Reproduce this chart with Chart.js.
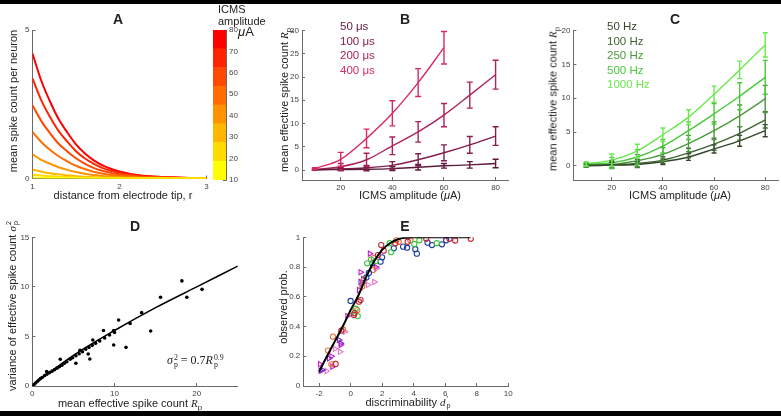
<!DOCTYPE html>
<html>
<head>
<meta charset="utf-8">
<title>ICMS spike count figure</title>
<script src="https://cdn.jsdelivr.net/npm/chart.js@4.4.1/dist/chart.umd.min.js"></script>
<style>
  body { margin: 0; background: #fff; }
  #fig { position: relative; width: 781px; height: 416px; overflow: hidden; background: #fff;
         font-family: "Liberation Sans", Arial, sans-serif; color: #222; }
  #fig canvas { position: absolute; left: 0; top: 0; }
  .bar { position: absolute; left: 0; width: 781px; background: #000; }
  .t { position: absolute; white-space: nowrap; font-size: 11px; line-height: 1; }
  .c { transform: translate(-50%, -50%); }
  .r { transform: translate(-50%, -50%) rotate(-90deg); }
  .l { transform: translate(0, -50%); }
  .big { font-weight: bold; font-size: 14px; }
  .leg { font-size: 11.5px; }
  .serif { font-family: "Liberation Serif", "Times New Roman", serif; }
  sub, sup { font-size: 70%; line-height: 0; }
  .ss { display: inline-flex; flex-direction: column; vertical-align: middle; font-size: 65%;
        line-height: 0.95; margin-left: 1px; }
</style>
</head>
<body>
<div id="fig">
  <div class="bar" style="top:0;height:4px"></div>
  <div class="bar" style="top:411px;height:5px"></div>
  <canvas id="cA" width="781" height="416"></canvas>
  <canvas id="cBar" width="781" height="416"></canvas>
  <canvas id="cB" width="781" height="416"></canvas>
  <canvas id="cC" width="781" height="416"></canvas>
  <canvas id="cD" width="781" height="416"></canvas>
  <canvas id="cE" width="781" height="416"></canvas>

  <!-- panel letters -->
  <div class="t c big" style="left:118px;top:19px">A</div>
  <div class="t c big" style="left:405px;top:19px">B</div>
  <div class="t c big" style="left:675px;top:19px">C</div>
  <div class="t c big" style="left:135px;top:226px">D</div>
  <div class="t c big" style="left:405px;top:226px">E</div>

  <!-- axis titles -->
  <div class="t r" style="left:13px;top:101px">mean spike count per neuron</div>
  <div class="t c" style="left:123px;top:195px">distance from electrode tip, r</div>
  <div class="t r" style="left:284px;top:100px">mean effective spike count <i class="serif">R</i><sub>p</sub></div>
  <div class="t c" style="left:410px;top:195px">ICMS amplitude (<i>μ</i>A)</div>
  <div class="t r" style="left:553px;top:99px">mean effective spike count <i class="serif">R</i><sub>p</sub></div>
  <div class="t c" style="left:680px;top:195px">ICMS amplitude (<i>μ</i>A)</div>
  <div class="t r" style="left:13px;top:306px">variance of effective spike count <i class="serif">σ</i><span class="ss"><span>2</span><span>p</span></span></div>
  <div class="t c" style="left:130px;top:403px">mean effective spike count <i class="serif">R</i><sub>p</sub></div>
  <div class="t r" style="left:283px;top:307px">observed prob.</div>
  <div class="t c" style="left:408px;top:403px">discriminability <i class="serif">d</i><span class="ss"><span>′</span><span>p</span></span></div>

  <!-- colorbar title -->
  <div class="t l" style="left:218px;top:9px">ICMS</div>
  <div class="t l" style="left:218px;top:20.5px">amplitude</div>
  <div class="t l" style="left:238px;top:31px;font-size:13px"><i>μ</i>A</div>

  <!-- legends -->
  <div class="t l leg" style="left:340px;top:27px;color:#5c1a3c">50 μs</div>
  <div class="t l leg" style="left:340px;top:41.5px;color:#851e4c">100 μs</div>
  <div class="t l leg" style="left:340px;top:56px;color:#ad225a">200 μs</div>
  <div class="t l leg" style="left:340px;top:70.5px;color:#d92a66">400 μs</div>

  <div class="t l leg" style="left:607px;top:27px;color:#34472a">50 Hz</div>
  <div class="t l leg" style="left:607px;top:41.5px;color:#3f6530">100 Hz</div>
  <div class="t l leg" style="left:607px;top:56px;color:#4a9a38">250 Hz</div>
  <div class="t l leg" style="left:607px;top:70.5px;color:#48c83a">500 Hz</div>
  <div class="t l leg" style="left:607px;top:85px;color:#6be84f">1000 Hz</div>

  <div class="t l serif" style="left:167px;top:361px;font-size:12px"><i>σ</i><span class="ss"><span>2</span><span>p</span></span> = 0.7<i>R</i><span class="ss"><span>0.9</span><span>p</span></span></div>
</div>

<script>
// ---- panel A: spike count vs distance, one curve per amplitude ----
const rA = [1, 1.1, 1.2, 1.3, 1.4, 1.5, 1.6, 1.7, 1.8, 1.9, 2.0, 2.2, 2.4, 2.6, 2.8, 3.0];
const a10 = [0.03, 0.023, 0.018, 0.014, 0.011, 0.008, 0.006, 0.004, 0.003, 0.002, 0.002, 0.001, 0, 0, 0, 0];
const a20 = [0.13, 0.1, 0.08, 0.06, 0.048, 0.036, 0.026, 0.019, 0.014, 0.01, 0.007, 0.004, 0.002, 0.001, 0.001, 0];
const a30 = [0.3, 0.23, 0.18, 0.14, 0.11, 0.08, 0.06, 0.044, 0.032, 0.023, 0.017, 0.009, 0.005, 0.003, 0.001, 0.001];
const a40 = [0.81, 0.63, 0.5, 0.38, 0.29, 0.22, 0.16, 0.12, 0.085, 0.063, 0.046, 0.023, 0.013, 0.008, 0.004, 0.002];
const a50 = [1.57, 1.23, 0.97, 0.75, 0.58, 0.43, 0.32, 0.23, 0.17, 0.12, 0.09, 0.045, 0.026, 0.015, 0.008, 0.004];
const a60 = [2.47, 1.94, 1.53, 1.17, 0.91, 0.68, 0.5, 0.36, 0.26, 0.19, 0.14, 0.07, 0.04, 0.023, 0.012, 0.006];
const a70 = [3.37, 2.64, 2.08, 1.6, 1.24, 0.92, 0.68, 0.5, 0.36, 0.26, 0.19, 0.1, 0.056, 0.032, 0.016, 0.008];
const a80 = [4.21, 3.3, 2.6, 2.0, 1.55, 1.15, 0.85, 0.62, 0.45, 0.33, 0.24, 0.12, 0.07, 0.04, 0.02, 0.01];
const ampColors = ["#ffff00", "#ffdb00", "#ffb600", "#ff9200", "#ff6d00", "#ff4900", "#ff2400", "#ff0000"];
const cbEdges = [10, 18.75, 27.5, 36.25, 45, 53.75, 62.5, 71.25, 80];
const cbTicks = [10, 20, 30, 40, 50, 60, 70, 80];

// ---- panel B: pulse width ----
const ampB = [10, 20, 30, 40, 50, 60, 70, 80];
const b50 = [0.05, 0.1, 0.15, 0.3, 0.6, 0.9, 1.1, 1.4];
const b50err = [0.1, 0.2, 0.3, 0.4, 0.6, 0.5, 0.7, 0.9];
const b100 = [0.05, 0.2, 0.5, 1.0, 2.2, 3.7, 5.4, 7.3];
const b100err = [0.1, 0.3, 0.5, 0.8, 1.3, 1.7, 1.8, 2.0];
const b200 = [0.1, 0.7, 2.2, 5.2, 8.2, 11.8, 16.1, 20.5];
const b200err = [0.15, 0.7, 1.4, 1.9, 2.2, 2.5, 2.8, 3.1];
const b400 = [0.3, 2.3, 6.8, 12.2, 18.8, 26.3];
const b400err = [0.2, 1.5, 2.0, 2.7, 3.0, 3.5];

// ---- panel C: pulse frequency ----
const ampC = [10, 20, 30, 40, 50, 60, 70, 80];
const c50 = [0.0, 0.1, 0.2, 0.6, 1.3, 2.5, 3.7, 5.2];
const c50err = [0.2, 0.4, 0.4, 0.4, 0.5, 0.6, 0.8, 0.9];
const c100 = [0.05, 0.15, 0.35, 0.85, 1.9, 3.2, 4.8, 6.8];
const c100err = [0.2, 0.5, 0.6, 0.5, 0.7, 0.9, 1.0, 1.2];
const c250 = [0.1, 0.2, 0.75, 1.7, 3.3, 5.2, 7.4, 9.9];
const c250err = [0.2, 0.6, 0.9, 1.0, 1.2, 1.3, 1.6, 2.0];
const c500 = [0.2, 0.45, 1.3, 2.9, 5.2, 7.7, 10.3, 13.1];
const c500err = [0.3, 0.8, 1.1, 1.0, 1.3, 1.5, 2.0, 2.5];
const c1000 = [0.3, 0.85, 2.2, 4.6, 7.2, 10.6, 14.2, 17.9];
const c1000err = [0.3, 0.9, 1.0, 1.0, 1.1, 1.2, 1.3, 1.8];

// ---- panel D: variance vs mean ----
const dMean = [0.2, 0.4, 0.6, 0.8, 1.0, 1.2, 1.5, 1.75, 1.8, 2.1, 2.4, 2.7, 3.0, 3.3, 3.4, 3.6, 3.9, 4.2,
  4.6, 4.9, 5.3, 5.3, 5.7, 5.8, 6.1, 6.5, 6.8, 6.9, 7.0, 7.3, 7.36, 7.7, 8.2, 8.66, 8.8, 9.4, 9.9, 9.9,
  10.0, 10.5, 11.4, 11.9, 13.3, 14.4, 15.6, 18.2, 18.8, 20.65];
const dVar = [0.15, 0.3, 0.45, 0.6, 0.75, 0.85, 1.05, 1.45, 1.2, 1.35, 1.5, 1.65, 1.8, 1.95, 2.7, 2.1, 2.3, 2.45,
  2.7, 2.85, 3.05, 2.29, 3.25, 3.6, 3.45, 3.7, 3.23, 3.9, 2.72, 4.1, 4.64, 4.3, 4.55, 5.6, 4.85, 5.15, 5.6, 4.14,
  5.4, 6.66, 3.9, 6.3, 7.4, 5.55, 8.95, 10.6, 8.95, 9.75];
const dFitX = [0, 1, 2, 5, 10, 15, 20, 25];
const dFitY = [0, 0.7, 1.3, 3.1, 5.6, 7.9, 10.0, 12.1];

// ---- panel E: psychometric ----
const eCurveX = [-2, -1.5, -1, -0.5, 0, 0.5, 1, 1.5, 2, 2.5, 3, 3.5, 4, 5, 6, 7.6];
const eCurveY = [0.096, 0.2, 0.3, 0.4, 0.51, 0.61, 0.735, 0.84, 0.915, 0.96, 0.987, 0.997, 1, 1, 1, 1];
const eRedX = [1.94, 2.84, 3.62, 4.8, 6.27, 6.63, 7.62, 2.1, 1.73, 0.63, 0.53, 0.21, 0.25, -0.59, -0.95];
const eRedY = [0.948, 0.96, 0.97, 0.99, 0.99, 0.978, 0.99, 0.91, 0.88, 0.578, 0.567, 0.478, 0.49, 0.372, 0.148];
const eGreenX = [2.48, 2.57, 4.04, 4.36, 5.47, 1.05, 1.3, 0.32, 0.1, 0.45, 1.6];
const eGreenY = [0.96, 0.9, 0.955, 0.98, 0.96, 0.825, 0.85, 0.52, 0.5, 0.47, 0.84];
const eBlueX = [2.74, 3.33, 3.58, 4.1, 4.2, 4.88, 5.16, 5.79, 6.06, 2.0, 1.9, 1.37, 1.16, 0, 1.0];
const eBlueY = [0.926, 0.937, 0.93, 0.92, 0.89, 0.964, 0.948, 0.953, 0.98, 0.865, 0.836, 0.825, 0.76, 0.572, 0.73];
const eOrangeX = [3.05, 3.79, 1.47, 1.43, 0.84, 0.74, 0.42, -0.48, -1.12, -1.43, -1.22, 2.9];
const eOrangeY = [0.97, 0.98, 0.86, 0.78, 0.713, 0.67, 0.51, 0.38, 0.332, 0.238, 0.146, 0.98];
const eMagentaX = [1.22, 0.63, 0.53, -0.21, -0.63, -1.22, -1.94, -1.16, 1.6];
const eMagentaY = [0.89, 0.765, 0.645, 0.47, 0.276, 0.2, 0.146, 0.13, 0.8];
const ePurpleX = [0.63, 0.74, 0.8, -0.74, -0.63, -1.37, -1.79, -1.9];
const ePurpleY = [0.7, 0.69, 0.72, 0.31, 0.287, 0.186, 0.108, 0.103];
const ePinkX = [1.5, 1.64, -0.36, -0.67, -1.52, 1.1, -1.0];
const ePinkY = [0.7, 0.79, 0.365, 0.23, 0.1, 0.68, 0.25];

// ------------------------------------------------------------
const W = 781, H = 416, AXW = 30, AXH = 16;
const axisGray = "#6a6a6a";

Chart.defaults.font.family = '"Liberation Sans", Arial, sans-serif';
Chart.defaults.font.size = 8;
Chart.defaults.color = "#444";

// plot area [left, top, right, bottom] -> layout padding
function layoutFor(area, yOnRight, noX) {
  return {
    padding: {
      left: yOnRight ? area[0] : area[0] - AXW,
      top: area[1],
      right: yOnRight ? W - area[2] - AXW : W - area[2],
      bottom: noX ? H - area[3] : H - area[3] - AXH,
    },
  };
}

function axis(min, max, ticks, pos) {
  return {
    type: "linear",
    position: pos,
    min: min,
    max: max,
    afterBuildTicks: (s) => {
      s.ticks = ticks.map((v) => ({ value: v }));
    },
    afterFit: (s) => {
      if (s.isHorizontal()) s.height = AXH;
      else s.width = AXW;
    },
    grid: { drawOnChartArea: false, drawTicks: true, tickLength: -3, color: axisGray },
    border: { display: true, color: axisGray, width: 1 },
    ticks: { padding: 6, autoSkip: false, maxRotation: 0, callback: (v) => String(v) },
  };
}

function pts(xs, ys) {
  return ys.map((y, i) => ({ x: xs[i], y: y }));
}

const errorBars = {
  id: "errorBars",
  afterDatasetsDraw(chart) {
    const ctx = chart.ctx;
    const xs = chart.scales.x, ys = chart.scales.y;
    chart.data.datasets.forEach((ds) => {
      if (!ds.errs) return;
      ctx.save();
      ctx.strokeStyle = ds.borderColor;
      ctx.lineWidth = 1.4;
      ds.data.forEach((p, j) => {
        const e = ds.errs[j];
        const px = xs.getPixelForValue(p.x);
        const y1 = ys.getPixelForValue(p.y - e);
        const y2 = ys.getPixelForValue(p.y + e);
        ctx.beginPath();
        ctx.moveTo(px, y1);
        ctx.lineTo(px, y2);
        ctx.moveTo(px - ds.cap, y1);
        ctx.lineTo(px + ds.cap, y1);
        ctx.moveTo(px - ds.cap, y2);
        ctx.lineTo(px + ds.cap, y2);
        ctx.stroke();
      });
      ctx.restore();
    });
  },
};

const baseOpts = {
  responsive: false,
  animation: false,
  devicePixelRatio: 1,
  events: [],
};
const noPlugins = { legend: { display: false }, tooltip: { enabled: false }, title: { display: false } };

// ---------- A ----------
const aSeries = [a10, a20, a30, a40, a50, a60, a70, a80];
new Chart(document.getElementById("cA"), {
  type: "line",
  data: {
    datasets: aSeries.map((s, i) => ({
      data: pts(rA, s),
      borderColor: ampColors[i],
      borderWidth: 2,
      pointRadius: 0,
      cubicInterpolationMode: "monotone",
    })),
  },
  options: {
    ...baseOpts,
    layout: layoutFor([32.5, 30, 206.5, 178.5]),
    plugins: noPlugins,
    scales: { x: axis(1, 3, [1, 2, 3], "bottom"), y: axis(0, 5, [0, 5], "left") },
  },
});

// ---------- colorbar ----------
new Chart(document.getElementById("cBar"), {
  type: "bar",
  data: {
    labels: [""],
    datasets: ampColors.map((col, i) => ({
      data: [[cbEdges[i], cbEdges[i + 1]]],
      backgroundColor: col,
      borderWidth: 0,
      barPercentage: 1,
      categoryPercentage: 1,
      grouped: false,
    })),
  },
  options: {
    ...baseOpts,
    layout: layoutFor([213, 30, 226, 180], true, true),
    plugins: noPlugins,
    scales: {
      x: { display: false },
      y: axis(10, 80, cbTicks, "right"),
    },
  },
});

// ---------- B ----------
const bColors = ["#5c1a3c", "#851e4c", "#ad225a", "#d92a66"];
const bSeries = [b50, b100, b200, b400];
const bErrs = [b50err, b100err, b200err, b400err];
new Chart(document.getElementById("cB"), {
  type: "line",
  data: {
    datasets: bSeries.map((s, i) => ({
      data: pts(ampB, s),
      errs: bErrs[i],
      cap: 3,
      borderColor: bColors[i],
      borderWidth: 1.4,
      pointRadius: 0,
      cubicInterpolationMode: "monotone",
    })),
  },
  options: {
    ...baseOpts,
    layout: layoutFor([302, 30.5, 508.5, 180]),
    plugins: noPlugins,
    scales: {
      x: axis(5, 85, [20, 40, 60, 80], "bottom"),
      y: axis(-2.15, 30, [0, 5, 10, 15, 20, 25, 30], "left"),
    },
  },
  plugins: [errorBars],
});

// ---------- C ----------
const cColors = ["#34472a", "#3f6530", "#4a9a38", "#48c83a", "#6be84f"];
const cSeries = [c50, c100, c250, c500, c1000];
const cErrs = [c50err, c100err, c250err, c500err, c1000err];
new Chart(document.getElementById("cC"), {
  type: "line",
  data: {
    datasets: cSeries.map((s, i) => ({
      data: pts(ampC, s),
      errs: cErrs[i],
      cap: 2.5,
      borderColor: cColors[i],
      borderWidth: 1.4,
      pointRadius: 0,
      cubicInterpolationMode: "monotone",
    })),
  },
  options: {
    ...baseOpts,
    layout: layoutFor([573.4, 30.7, 778, 180]),
    plugins: noPlugins,
    scales: {
      x: axis(5, 85, [20, 40, 60, 80], "bottom"),
      y: axis(-2.1, 20, [0, 5, 10, 15, 20], "left"),
    },
  },
  plugins: [errorBars],
});

// ---------- D ----------
new Chart(document.getElementById("cD"), {
  type: "scatter",
  data: {
    datasets: [
      {
        data: pts(dFitX, dFitY),
        showLine: true,
        borderColor: "#000",
        borderWidth: 1.5,
        pointRadius: 0,
        cubicInterpolationMode: "monotone",
      },
      {
        data: pts(dMean, dVar),
        backgroundColor: "#000",
        borderColor: "#000",
        pointRadius: 1.8,
        borderWidth: 0,
      },
    ],
  },
  options: {
    ...baseOpts,
    layout: layoutFor([32.3, 237.3, 237.8, 386]),
    plugins: noPlugins,
    scales: {
      x: axis(0, 25, [0, 10, 20], "bottom"),
      y: axis(0, 15, [0, 5, 10, 15], "left"),
    },
  },
});

// ---------- E ----------
function ring(xs, ys, col) {
  return { data: pts(xs, ys), pointStyle: "circle", pointRadius: 2.6, borderColor: col, borderWidth: 1.1, backgroundColor: "transparent" };
}
function tri(xs, ys, col) {
  return { data: pts(xs, ys), pointStyle: "triangle", rotation: 90, pointRadius: 3, borderColor: col, borderWidth: 1.1, backgroundColor: "transparent" };
}
new Chart(document.getElementById("cE"), {
  type: "scatter",
  data: {
    datasets: [
      {
        data: pts(eCurveX, eCurveY),
        showLine: true,
        borderColor: "#000",
        borderWidth: 2,
        pointRadius: 0,
        cubicInterpolationMode: "monotone",
      },
      ring(eRedX, eRedY, "#c8283c"),
      ring(eGreenX, eGreenY, "#3cc83c"),
      ring(eBlueX, eBlueY, "#1f3fa0"),
      ring(eOrangeX, eOrangeY, "#e8743a"),
      tri(eMagentaX, eMagentaY, "#c81ec8"),
      tri(ePurpleX, ePurpleY, "#7a28c8"),
      tri(ePinkX, ePinkY, "#e878c8"),
    ],
  },
  options: {
    ...baseOpts,
    layout: layoutFor([303.3, 237.3, 508.3, 386]),
    plugins: noPlugins,
    scales: {
      x: axis(-3, 10, [-2, 0, 2, 4, 6, 8, 10], "bottom"),
      y: axis(0, 1, [0, 0.2, 0.4, 0.6, 0.8, 1], "left"),
    },
  },
});
</script>
</body>
</html>
